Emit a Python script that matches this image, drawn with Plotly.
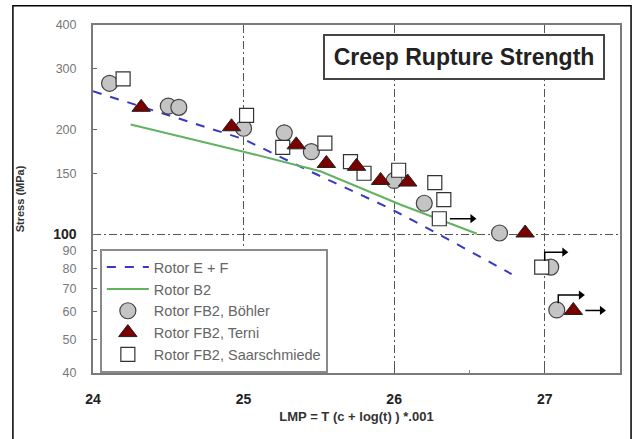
import math
import plotly.graph_objects as go

# ---------------- data ----------------
# fitted curves (LMP, stress MPa)
ef_lmp = [24.0, 25.0, 25.44, 25.97, 26.30, 26.78]
ef_stress = [258, 188, 152, 119, 100, 77]

b2_lmp = [24.25, 25.0, 25.51, 26.04, 26.55]
b2_stress = [207, 173, 152, 122, 100.5]

# Rotor FB2, Böhler (circles)
boh_lmp = [24.11, 24.50, 24.57, 25.00, 25.27, 25.45, 26.00, 26.20, 26.70, 27.04, 27.08]
boh_stress = [272, 234, 232, 202, 196, 173, 143, 123, 101, 80.6, 60.7]

# Rotor FB2, Terni (triangles)
ter_lmp = [24.32, 24.92, 25.35, 25.55, 25.75, 25.91, 26.09, 26.87, 27.19]
ter_stress = [232, 204, 181, 160, 157, 143, 141.5, 101, 60.5]

# Rotor FB2, Saarschmiede (squares)
saa_lmp = [24.20, 25.02, 25.26, 25.54, 25.71, 25.80, 26.03, 26.27, 26.33, 26.30, 26.98]
saa_stress = [280, 220, 178, 183, 162, 150, 153, 141, 126, 111, 80.6]

# run-out arrows: start LMP, end LMP, stress of arrow, stress of tick foot
arr_x0 = [26.37, 27.00, 27.09, 27.27]
arr_x1 = [26.52, 27.13, 27.24, 27.38]
arr_y = [111, 89, 67, 60.5]
arr_foot = [111, 84, 63.5, 60.5]

ytick_vals = [40, 50, 60, 70, 80, 90, 100, 150, 200, 300, 400]
xtick_vals = [24, 25, 26, 27]
ref_stress = 100

FONT = "Liberation Sans, Arial, sans-serif"

fig = go.Figure()

fig.add_trace(go.Scatter(x=ef_lmp, y=ef_stress, mode="lines", name="Rotor E + F",
                         line=dict(color="#3838c0", width=2, dash="dash"), legendrank=1))
fig.add_trace(go.Scatter(x=b2_lmp, y=b2_stress, mode="lines", name="Rotor B2",
                         line=dict(color="#62b262", width=2), legendrank=2))

fig.add_trace(go.Scatter(x=boh_lmp, y=boh_stress, mode="markers", name="Rotor FB2, Böhler",
                         marker=dict(symbol="circle", size=16, color="#c4c4c4",
                                     line=dict(color="#444444", width=1.2)), legendrank=3))
fig.add_trace(go.Scatter(x=saa_lmp, y=saa_stress, mode="markers", name="Rotor FB2, Saarschmiede",
                         marker=dict(symbol="square", size=14, color="white",
                                     line=dict(color="#333333", width=1.2)), legendrank=5))
fig.add_trace(go.Scatter(x=ter_lmp, y=ter_stress, mode="markers", name="Rotor FB2, Terni",
                         marker=dict(symbol="triangle-up", size=16, color="#7a0000",
                                     line=dict(color="#222222", width=1)), legendrank=4))

for x0, x1, y, yf in zip(arr_x0, arr_x1, arr_y, arr_foot):
    fig.add_trace(go.Scatter(x=[x0, x0, x1], y=[yf, y, y], mode="lines",
                             line=dict(color="black", width=1.5), showlegend=False, hoverinfo="skip"))
    fig.add_trace(go.Scatter(x=[x1], y=[y], mode="markers",
                             marker=dict(symbol="triangle-right", size=8, color="black"),
                             showlegend=False, hoverinfo="skip"))

ytick_text = []
for v in ytick_vals:
    if v == 100:
        ytick_text.append("<span style='font-size:14px'><b>100</b></span>")
    else:
        ytick_text.append(f"<span style='color:#777'>{v}</span>")

fig.update_layout(
    width=635, height=439,
    margin=dict(l=93, r=15, t=25, b=66),
    paper_bgcolor="white", plot_bgcolor="white",
    font=dict(family=FONT, color="#222"),
    showlegend=True,
    legend=dict(x=0.013, y=0.356, xanchor="left", yanchor="top",
                bordercolor="#8a8a8a", borderwidth=2, bgcolor="white",
                itemwidth=42,
                font=dict(family=FONT, size=14.5, color="#666")),
    xaxis=dict(range=[24, 27.5], tickvals=xtick_vals,
               ticktext=[f"<b>{v}</b>" for v in xtick_vals],
               tickfont=dict(family=FONT, size=14, color="#222"),
               showgrid=True, gridcolor="#555", gridwidth=1, griddash="8px,3px,2px,3px",
               showline=True, mirror=True, linecolor="#7a7a7a", linewidth=2,
               ticks="inside", ticklen=4, tickcolor="#555", ticklabelstandoff=12,
               minor=dict(tickvals=[24.5, 25.5, 26.5], ticks="inside", ticklen=3, tickcolor="#888"),
               zeroline=False,
               title=dict(text="<b>LMP = T (c + log(t) ) *.001</b>",
                          font=dict(family=FONT, size=13, color="#333"), standoff=6)),
    yaxis=dict(type="log", range=[math.log10(40), math.log10(400)],
               tickvals=ytick_vals, ticktext=ytick_text,
               tickfont=dict(family=FONT, size=12.5, color="#222"),
               showgrid=False, showline=True, mirror=True, linecolor="#7a7a7a", linewidth=2,
               ticks="inside", ticklen=4, tickcolor="#666", ticklabelstandoff=12,
               zeroline=False,
               title=dict(text="<b>Stress (MPa)</b>",
                          font=dict(family=FONT, size=11, color="#333"), standoff=26)),
    annotations=[dict(text="<b>Creep Rupture Strength</b>", xref="paper", yref="paper",
                      x=0.704, y=0.908, xanchor="center", yanchor="middle", showarrow=False,
                      font=dict(family=FONT, size=23, color="#222"),
                      width=276, height=40, bordercolor="#444", borderwidth=2,
                      borderpad=1, bgcolor="white")],
    shapes=[
        dict(type="line", xref="paper", yref="y", x0=0, x1=1,
             y0=ref_stress, y1=ref_stress,
             line=dict(color="#555", width=1, dash="8px,3px,2px,3px"), layer="below"),
        dict(type="rect", xref="paper", yref="paper", x0=-0.152, x1=1.021, y0=-0.25, y1=1.055,
             line=dict(color="black", width=1.5)),
    ],
)

fig.write_html("out.html")
